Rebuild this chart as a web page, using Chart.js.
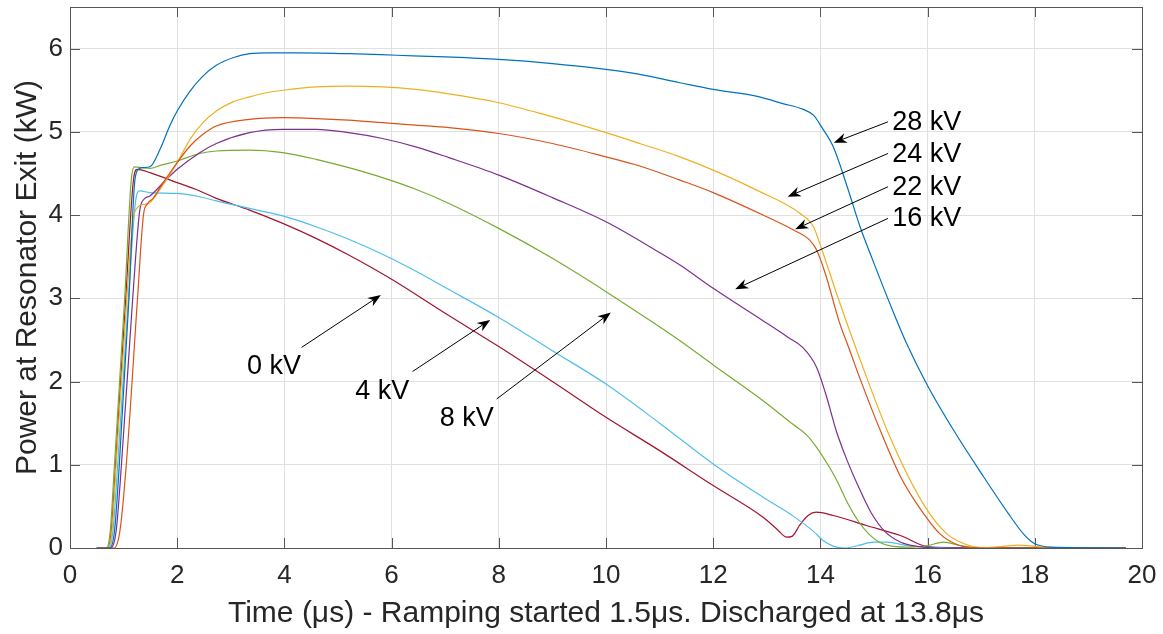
<!DOCTYPE html>
<html>
<head>
<meta charset="utf-8">
<script src="https://cdn.jsdelivr.net/npm/chart.js@4.4.1/dist/chart.umd.min.js"></script>
<style>
  html, body { margin: 0; padding: 0; background: #fff; }
  canvas { display: block; }
</style>
</head>
<body>
<canvas id="chartPotencia" width="1163" height="634"></canvas>
<script>
// Curvas medidas: [tiempo (µs), potencia (kW)]
const serie28kV = [[0.5,0],[0.74,0],[0.83,0.2],[0.92,1.0],[1.1,3.0],[1.2,4.35],[1.26,4.54],[1.35,4.57],[1.49,4.58],[1.68,4.79],[1.86,5.07],[2.0,5.25],[2.24,5.49],[2.48,5.67],[2.73,5.8],[3.04,5.89],[3.35,5.94],[3.7,5.95],[4.3,5.95],[5.2,5.94],[6.1,5.92],[7.0,5.9],[8.0,5.87],[9.0,5.82],[10.0,5.75],[10.63,5.69],[11.38,5.59],[12.0,5.51],[12.8,5.43],[13.3,5.34],[13.68,5.27],[13.87,5.2],[14.03,5.05],[14.24,4.82],[14.5,4.34],[14.74,3.86],[15.0,3.42],[15.3,2.93],[15.6,2.47],[16.0,1.95],[16.5,1.4],[17.0,0.9],[17.5,0.42],[17.8,0.16],[18.0,0.05],[18.3,0.01],[19.7,0]];
const serie22kV = [[0.5,0],[0.82,0],[0.93,0.2],[1.05,1.0],[1.26,3.0],[1.37,4.0],[1.45,4.14],[1.55,4.2],[1.7,4.35],[2.0,4.63],[2.24,4.83],[2.48,4.97],[2.73,5.07],[3.35,5.15],[3.97,5.17],[4.59,5.16],[5.2,5.14],[5.83,5.11],[6.45,5.08],[7.07,5.05],[8.0,4.98],[9.0,4.86],[10.0,4.7],[10.63,4.59],[11.38,4.42],[12.0,4.27],[12.93,4.0],[13.5,3.82],[13.8,3.7],[13.93,3.58],[14.1,3.28],[14.35,2.72],[14.55,2.37],[14.73,2.05],[15.17,1.33],[15.5,0.85],[15.8,0.53],[16.23,0.17],[16.6,0.03],[17.0,0],[19.7,0]];
const serie24kV = [[0.5,0],[0.7,0],[0.78,0.2],[0.86,1.0],[1.06,3.0],[1.17,3.9],[1.27,4.1],[1.4,4.13],[1.49,4.15],[1.7,4.33],[2.0,4.63],[2.24,4.91],[2.48,5.11],[2.73,5.25],[3.04,5.36],[3.35,5.42],[3.66,5.47],[3.97,5.5],[4.59,5.54],[5.2,5.55],[5.83,5.54],[6.45,5.51],[7.03,5.46],[8.0,5.35],[8.89,5.2],[10.0,4.99],[10.63,4.86],[11.38,4.7],[12.0,4.54],[12.81,4.3],[13.62,4.02],[13.87,3.86],[14.03,3.58],[14.3,3.06],[14.68,2.37],[15.3,1.33],[15.92,0.53],[16.36,0.17],[16.78,0.03],[17.1,0.005],[17.4,0.02],[17.7,0.035],[18.0,0.02],[18.3,0],[19.7,0]];
const serie16kV = [[0.5,0],[0.76,0],[0.86,0.2],[0.96,1.0],[1.17,3.0],[1.3,4.05],[1.38,4.19],[1.49,4.23],[1.8,4.43],[2.0,4.55],[2.42,4.75],[2.73,4.86],[3.35,4.99],[3.97,5.03],[4.59,5.03],[5.2,4.99],[5.83,4.92],[6.45,4.82],[7.07,4.69],[8.0,4.48],[9.0,4.21],[10.0,3.92],[11.0,3.55],[11.38,3.4],[12.0,3.12],[12.93,2.73],[13.4,2.53],[13.67,2.41],[13.93,2.17],[14.1,1.85],[14.3,1.4],[14.5,1.05],[14.7,0.75],[14.95,0.42],[15.2,0.2],[15.5,0.07],[15.8,0.02],[16.2,0],[19.7,0]];
const serie8kV = [[0.5,0],[0.68,0],[0.75,0.2],[0.83,1.0],[1.02,3.0],[1.14,4.4],[1.2,4.58],[1.35,4.57],[1.49,4.56],[1.7,4.6],[2.0,4.65],[2.42,4.74],[2.73,4.77],[3.35,4.78],[3.97,4.75],[4.59,4.67],[5.2,4.57],[5.83,4.45],[6.45,4.31],[7.07,4.14],[8.0,3.84],[9.0,3.48],[10.0,3.08],[10.9,2.7],[11.38,2.49],[12.0,2.2],[12.93,1.77],[13.5,1.48],[13.74,1.36],[13.93,1.21],[14.14,1.0],[14.3,0.82],[14.5,0.55],[14.7,0.33],[14.9,0.17],[15.1,0.07],[15.35,0.02],[15.7,0.01],[16.0,0.03],[16.3,0.07],[16.6,0.03],[17.0,0],[19.7,0]];
const serie4kV = [[0.5,0],[0.72,0],[0.8,0.2],[0.89,1.0],[1.09,3.0],[1.22,4.15],[1.3,4.29],[1.49,4.27],[2.0,4.26],[2.42,4.22],[2.73,4.17],[3.35,4.08],[3.97,3.99],[4.59,3.86],[5.2,3.71],[5.83,3.53],[6.5,3.31],[7.0,3.13],[8.0,2.77],[9.0,2.37],[10.0,1.97],[11.0,1.5],[12.0,1.01],[12.93,0.61],[13.5,0.38],[13.87,0.2],[14.05,0.09],[14.25,0.02],[14.45,0],[14.7,0.03],[15.0,0.07],[15.25,0.07],[15.6,0.03],[16.0,0.01],[16.4,0],[19.7,0]];
const serie0kV = [[0.5,0],[0.7,0],[0.77,0.2],[0.85,1.0],[1.04,3.0],[1.18,4.4],[1.25,4.55],[1.49,4.51],[2.0,4.39],[2.42,4.29],[2.73,4.2],[3.35,4.06],[3.97,3.9],[4.59,3.72],[5.2,3.52],[5.97,3.24],[7.0,2.82],[8.0,2.42],[9.0,2.0],[10.0,1.57],[11.0,1.17],[12.0,0.75],[12.93,0.37],[13.2,0.22],[13.37,0.13],[13.47,0.14],[13.62,0.28],[13.77,0.39],[13.92,0.43],[14.24,0.39],[14.86,0.27],[15.49,0.15],[15.98,0.02],[16.4,0.005],[19.7,0]];

// Orden y colores de trazado (paleta por defecto de MATLAB)
const series = [serie28kV, serie22kV, serie24kV, serie16kV, serie8kV, serie4kV, serie0kV];
const nombres = ['28 kV', '22 kV', '24 kV', '16 kV', '8 kV', '4 kV', '0 kV'];
const colores = ['#0072BD', '#D95319', '#EDB120', '#7E2F8E', '#77AC30', '#4DBEEE', '#A2142F'];

// Etiquetas con flecha: texto, posición del texto, cola y punta de la flecha
const etiquetas = ['28 kV', '24 kV', '22 kV', '16 kV', '0 kV', '4 kV', '8 kV'];
const posTexto = [[15.34,5.11],[15.34,4.73],[15.34,4.33],[15.34,3.96],[3.3,2.18],[5.32,1.88],[6.9,1.56]];
const colaFlecha = [[15.26,5.12],[15.26,4.74],[15.26,4.34],[15.26,3.96],[4.32,2.41],[6.39,2.12],[7.96,1.79]];
const puntaFlecha = [[14.25,4.87],[13.39,4.22],[13.53,3.83],[12.41,3.11],[5.8,3.04],[7.84,2.74],[10.09,2.83]];

const fuente = '"Liberation Sans", Arial, Helvetica, sans-serif';
const colorTexto = '#262626';

// Caja del eje con marcas hacia adentro en los cuatro lados
const marcoEjes = {
  id: 'marcoEjes',
  beforeDatasetsDraw(chart) {
    const {ctx, chartArea: {left, right, top, bottom}, scales: {x, y}} = chart;
    ctx.save();
    ctx.strokeStyle = '#555';
    ctx.lineWidth = 1;
    ctx.beginPath();
    x.ticks.forEach(t => {
      const px = Math.round(x.getPixelForValue(t.value)) + 0.5;
      ctx.moveTo(px, bottom); ctx.lineTo(px, bottom - 10);
      ctx.moveTo(px, top); ctx.lineTo(px, top + 10);
    });
    y.ticks.forEach(t => {
      const py = Math.round(y.getPixelForValue(t.value)) + 0.5;
      ctx.moveTo(left, py); ctx.lineTo(left + 10, py);
      ctx.moveTo(right, py); ctx.lineTo(right - 10, py);
    });
    ctx.stroke();
    ctx.strokeRect(left + 0.5, top + 0.5, right - left, bottom - top);
    ctx.restore();
  }
};

// Flecha con punta rellena y muesca atrás
function dibujarFlecha(ctx, x0, y0, x1, y1) {
  const ang = Math.atan2(y1 - y0, x1 - x0);
  const c = Math.cos(ang), s = Math.sin(ang);
  const largo = 13, ancho = 5;
  ctx.beginPath();
  ctx.moveTo(x0, y0);
  ctx.lineTo(x1 - largo * 0.7 * c, y1 - largo * 0.7 * s);
  ctx.stroke();
  ctx.beginPath();
  ctx.moveTo(x1, y1);
  ctx.lineTo(x1 - largo * c + ancho * s, y1 - largo * s - ancho * c);
  ctx.lineTo(x1 - largo * 0.7 * c, y1 - largo * 0.7 * s);
  ctx.lineTo(x1 - largo * c - ancho * s, y1 - largo * s + ancho * c);
  ctx.closePath();
  ctx.fill();
}

const anotaciones = {
  id: 'anotaciones',
  afterDatasetsDraw(chart) {
    const {ctx, scales: {x, y}} = chart;
    ctx.save();
    ctx.font = '27px ' + fuente;
    ctx.fillStyle = '#000';
    ctx.strokeStyle = '#000';
    ctx.lineWidth = 1;
    ctx.textAlign = 'left';
    ctx.textBaseline = 'middle';
    etiquetas.forEach((texto, i) => {
      ctx.fillText(texto, x.getPixelForValue(posTexto[i][0]), y.getPixelForValue(posTexto[i][1]));
      dibujarFlecha(ctx,
        x.getPixelForValue(colaFlecha[i][0]), y.getPixelForValue(colaFlecha[i][1]),
        x.getPixelForValue(puntaFlecha[i][0]), y.getPixelForValue(puntaFlecha[i][1]));
    });
    ctx.restore();
  }
};

Chart.defaults.font.family = fuente;
Chart.defaults.color = colorTexto;

const ctx = document.getElementById('chartPotencia').getContext('2d');
const chart = new Chart(ctx, {
  type: 'line',
  data: {
    datasets: series.map((serie, i) => ({
      label: nombres[i],
      data: serie.map(([t, p]) => ({x: t, y: p})),
      borderColor: colores[i],
      borderWidth: 1.2,
      pointRadius: 0,
      fill: false,
      cubicInterpolationMode: 'monotone'
    }))
  },
  options: {
    responsive: false,
    animation: false,
    devicePixelRatio: 1,
    layout: { padding: { top: 7, right: 21, left: 0, bottom: 0 } },
    plugins: { legend: { display: false }, tooltip: { enabled: false } },
    scales: {
      x: {
        type: 'linear',
        min: 0,
        max: 20,
        afterFit: (scale) => {
          scale.height = 86;
          scale.paddingLeft = 0;
          scale.paddingRight = 0;
        },
        grid: { color: '#e0e0e0', drawTicks: false },
        border: { display: false },
        ticks: { stepSize: 2, padding: 12, maxRotation: 0, autoSkip: false, font: { size: 26 }, color: colorTexto },
        title: {
          display: true,
          text: 'Time (μs) - Ramping started 1.5μs. Discharged at 13.8μs',
          font: { size: 30 },
          color: colorTexto,
          padding: { top: 0, bottom: 2 }
        }
      },
      y: {
        min: 0,
        max: 6.5,
        afterFit: (scale) => {
          scale.width = 70;
          scale.paddingTop = 0;
          scale.paddingBottom = 0;
        },
        grid: { color: '#e0e0e0', drawTicks: false },
        border: { display: false },
        ticks: { stepSize: 1, includeBounds: false, padding: 7, font: { size: 26 }, color: colorTexto },
        title: {
          display: true,
          text: 'Power at Resonator Exit (kW)',
          font: { size: 30 },
          color: colorTexto,
          padding: { top: 10, bottom: 0 }
        }
      }
    }
  },
  plugins: [marcoEjes, anotaciones]
});
</script>
</body>
</html>
